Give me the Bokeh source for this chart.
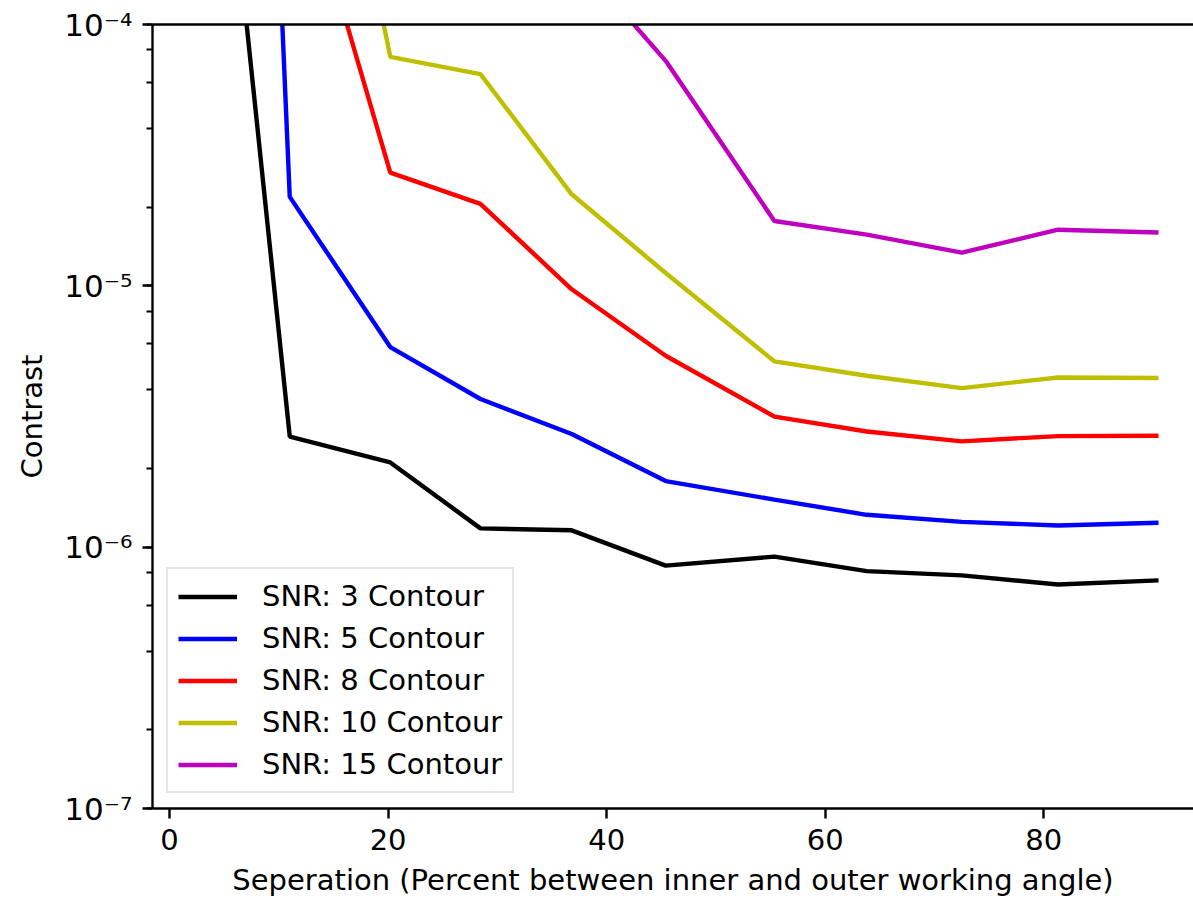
from bokeh.plotting import figure
from bokeh.models import (Range1d, LinearAxis, FixedTicker, LogTicker,
                          CustomJSTickFormatter, Legend, LegendItem)
from bokeh.embed import file_html
from bokeh.resources import INLINE

# ---- data ----
separation = [2.8, 11.0, 20.2, 28.45, 36.8, 45.4, 55.35, 63.8, 72.5, 81.3, 90.5]
snr3 = [5.0e-3, 2.65e-6, 2.11e-6, 1.18e-6, 1.16e-6, 8.5e-7, 9.2e-7, 8.1e-7, 7.8e-7, 7.2e-7, 7.46e-7]
snr5 = [2.0e3, 2.19e-5, 5.83e-6, 3.69e-6, 2.71e-6, 1.79e-6, 1.52e-6, 1.33e-6, 1.25e-6, 1.21e-6, 1.24e-6]
snr8 = [3.0e-2, 5.6e-4, 2.71e-5, 2.06e-5, 9.7e-6, 5.40e-6, 3.16e-6, 2.77e-6, 2.54e-6, 2.66e-6, 2.67e-6]
snr10 = [5.0e-2, 5.7e-3, 7.52e-5, 6.46e-5, 2.24e-5, 1.12e-5, 5.14e-6, 4.53e-6, 4.06e-6, 4.46e-6, 4.44e-6]
snr15 = [1.0e-1, 3.0e-2, 8.0e-3, 1.5e-3, 1.87e-4, 7.26e-5, 1.77e-5, 1.57e-5, 1.34e-5, 1.64e-5, 1.60e-5]

series_labels = ["SNR: 3 Contour", "SNR: 5 Contour", "SNR: 8 Contour",
                 "SNR: 10 Contour", "SNR: 15 Contour"]
series_colors = ["#000000", "#0000ff", "#ff0000", "#bfbf00", "#bf00bf"]

x_ticks = [0, 20, 40, 60, 80]
y_tick_values = [1e-7, 1e-6, 1e-5, 1e-4]
y_tick_labels = ["10\u207b\u2077", "10\u207b\u2076", "10\u207b\u2075", "10\u207b\u2074"]

x_title = "Seperation (Percent between inner and outer working angle)"
y_title = "Contrast"

FONT = "DejaVu Sans"
FS = "29px"

p = figure(width=1193, height=899,
           x_range=Range1d(-1.56, 93.7), y_range=Range1d(1e-7, 1e-4),
           y_axis_type="log", output_backend="svg", toolbar_location=None,
           min_border_left=152, min_border_right=0, min_border_top=24,
           min_border_bottom=90)
p.outline_line_color = None
p.grid.visible = False
p.background_fill_color = "white"
p.border_fill_color = "white"

renderers = []
for ys, c in zip([snr3, snr5, snr8, snr10, snr15], series_colors):
    r = p.line(separation, ys, line_color=c, line_width=4.4)
    renderers.append(r)

# axes styling
for ax in (p.xaxis[0], p.yaxis[0]):
    ax.axis_line_width = 2.4
    ax.axis_line_color = "black"
    ax.major_tick_line_width = 2.4
    ax.minor_tick_line_width = 1.8
    ax.major_tick_out = 10
    ax.major_tick_in = 0
    ax.minor_tick_out = 6
    ax.minor_tick_in = 0
    ax.major_label_text_font = FONT
    ax.major_label_text_font_size = FS
    ax.major_label_text_color = "black"
    ax.axis_label_text_font = FONT
    ax.axis_label_text_font_size = FS
    ax.axis_label_text_font_style = "normal"
    ax.axis_label_text_color = "black"

p.xaxis.ticker = FixedTicker(ticks=x_ticks)
p.xaxis.minor_tick_line_color = None
p.xaxis.axis_label = x_title
p.xaxis.major_label_standoff = 10
p.xaxis.axis_label_standoff = 10

p.yaxis.ticker = LogTicker()
p.yaxis.formatter = CustomJSTickFormatter(
    args=dict(vals=y_tick_values, labels=y_tick_labels),
    code="""
const e = Math.round(Math.log10(tick));
for (let i = 0; i < vals.length; i++) {
  if (Math.round(Math.log10(vals[i])) === e) return labels[i];
}
return '';
""")
p.yaxis.axis_label = y_title
p.yaxis.major_label_standoff = 10
p.yaxis.axis_label_standoff = 12
p.yaxis.major_label_text_font_size = "31px"

top = LinearAxis(ticker=FixedTicker(ticks=[]), axis_line_width=2.4,
                 axis_line_color="black", major_tick_line_color=None,
                 minor_tick_line_color=None, major_label_text_font_size="0px")
p.add_layout(top, "above")

legend = Legend(items=[LegendItem(label=l, renderers=[r])
                       for l, r in zip(series_labels, renderers)],
                location=(14, 15))
legend.label_text_font = FONT
legend.label_text_font_size = FS
legend.label_text_color = "black"
legend.glyph_width = 59
legend.glyph_height = 29
legend.label_height = 29
legend.label_standoff = 25
legend.spacing = 8
legend.padding = 10
legend.margin = 0
legend.border_line_color = "#cccccc"
legend.border_line_width = 2.4
legend.background_fill_color = "white"
legend.background_fill_alpha = 0.8
p.add_layout(legend)

open("out.html", "w").write(file_html(p, INLINE))
